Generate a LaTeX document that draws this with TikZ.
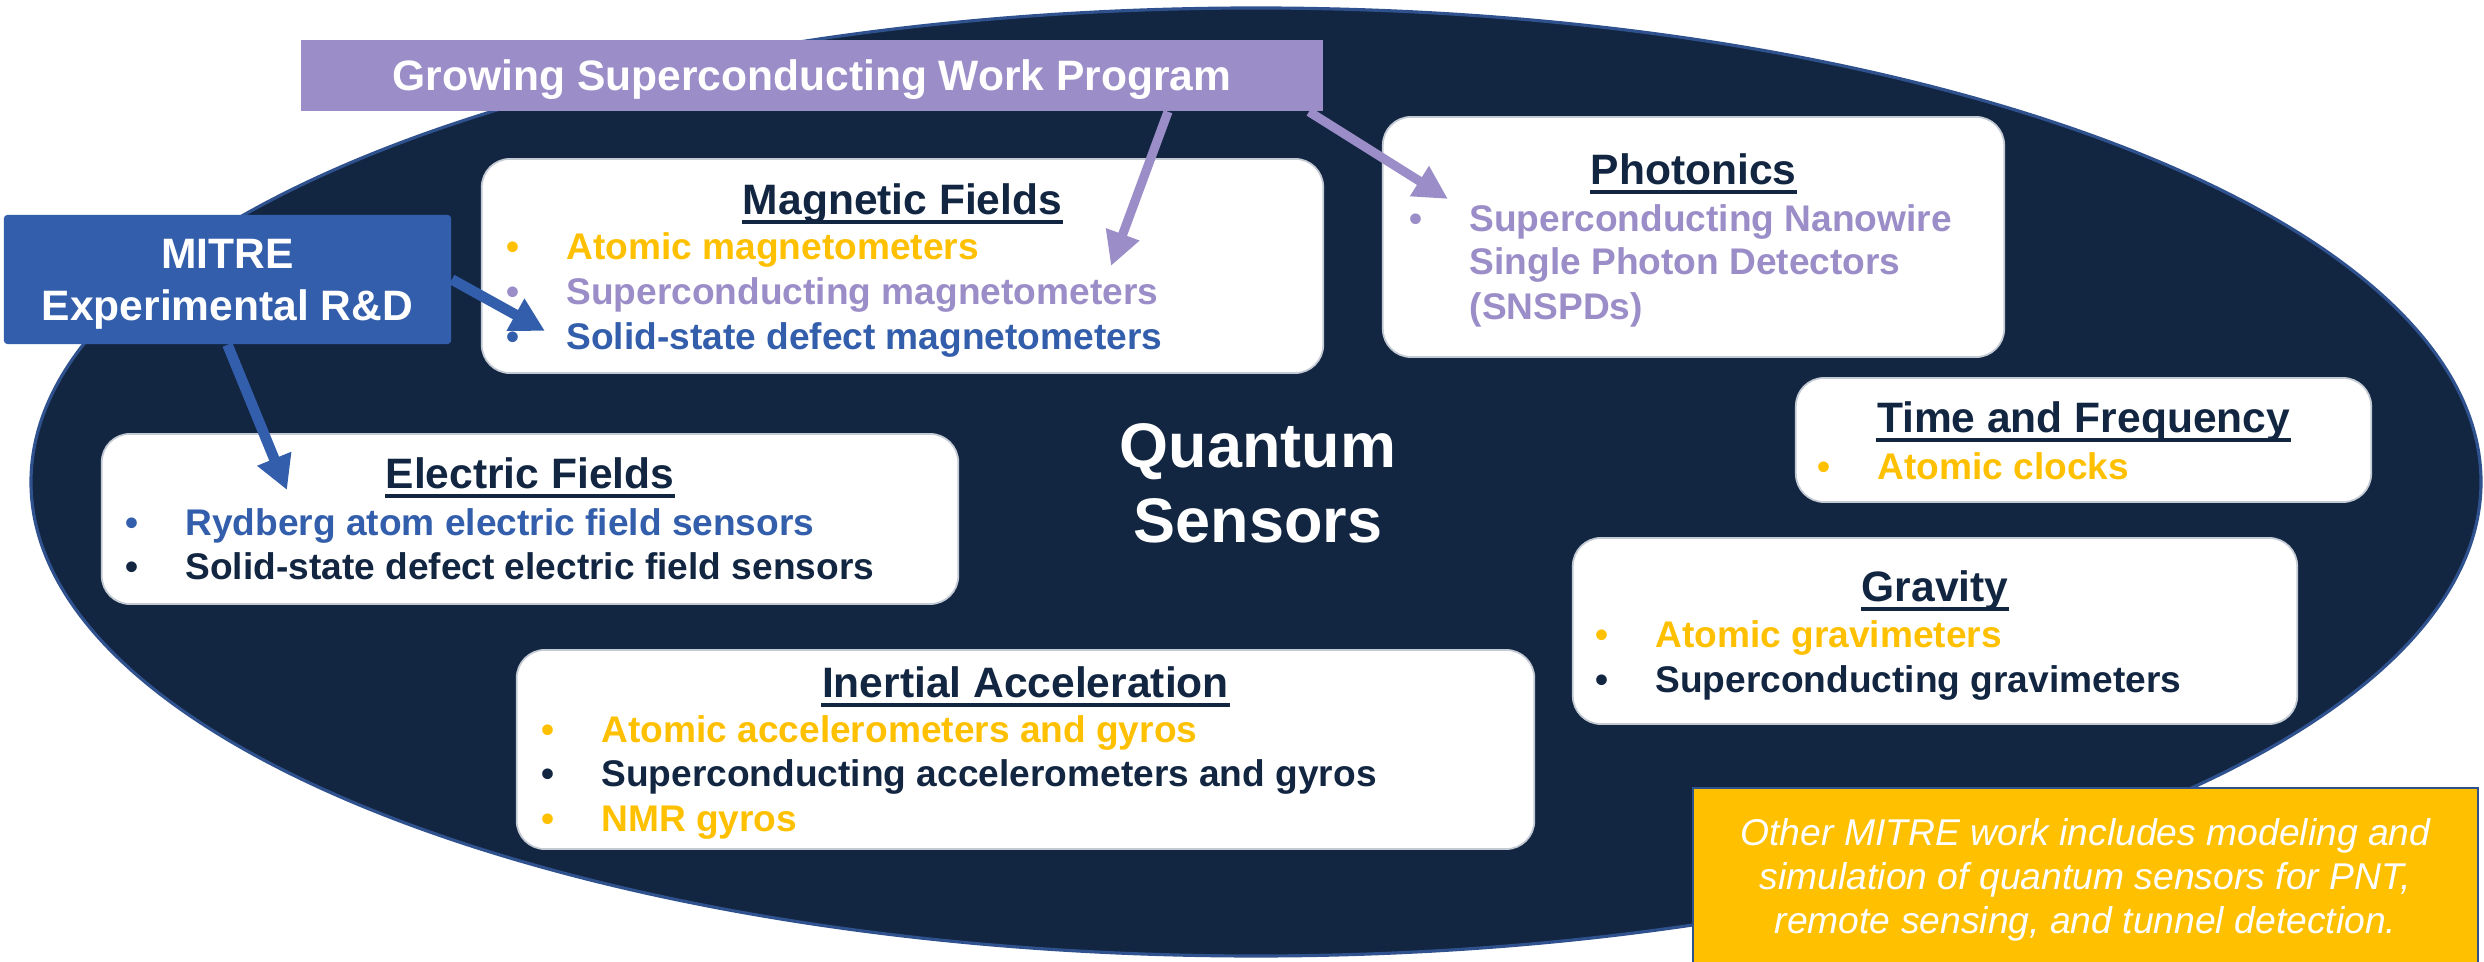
\documentclass[tikz,border=0pt]{standalone}
\usepackage{fontspec}
\setmainfont{Liberation Sans}
\usepackage{xcolor}
\usetikzlibrary{arrows.meta, calc}
\definecolor{navyColor}{RGB}{18, 38, 66}
\definecolor{rimColor}{RGB}{47, 82, 143}
\definecolor{violetColor}{RGB}{155, 142, 200}
\definecolor{blueColor}{RGB}{51, 94, 171}
\definecolor{goldColor}{RGB}{255, 192, 0}
\definecolor{edgeColor}{RGB}{196, 202, 212}
\newcommand{\bdot}{\makebox[17pt][l]{\textbullet}}

\begin{document}
\begin{tikzpicture}[x=0.01cm, y=-0.01cm,
	catbox/.style={draw=edgeColor, line width=0.5pt, fill=white, rounded corners=8pt, inner sep=0pt},
	headtext/.style={font=\bfseries\fontsize{12.1}{14}\selectfont, text=navyColor, inner sep=0pt, anchor=base},
	itemtext/.style={font=\bfseries\fontsize{10.55}{12.5}\selectfont, inner sep=0pt, anchor=base west},
	violetarrow/.style={-{Triangle[length=9.6pt, width=9.5pt]}, line width=2.6pt, violetColor},
	bluearrow/.style={-{Triangle[length=9.6pt, width=9.8pt]}, line width=3pt, blueColor}]
					\useasboundingbox (0,0) rectangle (2484,962);
					% Big ellipse
					\draw[fill=navyColor, draw=rimColor, line width=0.9pt] (1256,482) ellipse [x radius=1225, y radius=474];
					\node[white, font=\bfseries\fontsize{17.9}{21.3}\selectfont, align=center, text depth=0pt, inner sep=0pt] (qs) at (1258,483) {Quantum\\Sensors};
					
					% Category boxes
					\node[catbox, minimum width=8.41cm, minimum height=2.14cm] (magbox) at (902.5,266) {};
					\node[catbox, minimum width=6.21cm, minimum height=2.40cm] (phobox) at (1693.5,237) {};
					\node[catbox, minimum width=5.75cm, minimum height=1.24cm] (timbox) at (2083.5,440) {};
					\node[catbox, minimum width=7.24cm, minimum height=1.86cm] (grabox) at (1935,631) {};
					\node[catbox, minimum width=8.56cm, minimum height=1.70cm] (elebox) at (530,519) {};
					\node[catbox, minimum width=10.17cm, minimum height=1.99cm] (inebox) at (1025.5,749.5) {};
					
					% Headings
					\node[headtext] (hmag) at (902.5,215) {Magnetic Fields};
					\node[headtext] (hpho) at (1693.5,185) {Photonics};
					\node[headtext] (htim) at (2083.5,433) {Time and Frequency};
					\node[headtext] (hgra) at (1935,602) {Gravity};
					\node[headtext] (hele) at (530,489) {Electric Fields};
					\node[headtext] (hine) at (1025.5,698) {Inertial Acceleration};
					\draw[navyColor, line width=1.1pt] ($(hmag.base west)+(0,7)$) -- ($(hmag.base east)+(0,7)$);
					\draw[navyColor, line width=1.1pt] ($(hpho.base west)+(0,7)$) -- ($(hpho.base east)+(0,7)$);
					\draw[navyColor, line width=1.1pt] ($(htim.base west)+(0,7)$) -- ($(htim.base east)+(0,7)$);
					\draw[navyColor, line width=1.1pt] ($(hgra.base west)+(0,7)$) -- ($(hgra.base east)+(0,7)$);
					\draw[navyColor, line width=1.1pt] ($(hele.base west)+(0,7)$) -- ($(hele.base east)+(0,7)$);
					\draw[navyColor, line width=1.1pt] ($(hine.base west)+(0,7)$) -- ($(hine.base east)+(0,7)$);
					
					% Magnetic fields items
					\node[itemtext, goldColor] (mag1) at (506,260) {\bdot Atomic magnetometers};
					\node[itemtext, violetColor] (mag2) at (506,305) {\bdot Superconducting magnetometers};
					\node[itemtext, blueColor] (mag3) at (506,350) {\bdot Solid-state defect magnetometers};
					% Photonics items
					\node[itemtext, violetColor] (pho1) at (1409,232) {\bdot Superconducting Nanowire};
					\node[itemtext, violetColor] (pho2) at (1469,275) {Single Photon Detectors};
					\node[itemtext, violetColor] (pho3) at (1469,320) {(SNSPDs)};
					% Time and frequency items
					\node[itemtext, goldColor] (tim1) at (1817,480) {\bdot Atomic clocks};
					% Gravity items
					\node[itemtext, goldColor] (gra1) at (1595,648) {\bdot Atomic gravimeters};
					\node[itemtext, navyColor] (gra2) at (1595,693) {\bdot Superconducting gravimeters};
					% Electric fields items
					\node[itemtext, blueColor] (ele1) at (125,536) {\bdot Rydberg atom electric field sensors};
					\node[itemtext, navyColor] (ele2) at (125,580) {\bdot Solid-state defect electric field sensors};
					% Inertial acceleration items
					\node[itemtext, goldColor] (ine1) at (541,743) {\bdot Atomic accelerometers and gyros};
					\node[itemtext, navyColor] (ine2) at (541,787) {\bdot Superconducting accelerometers and gyros};
					\node[itemtext, goldColor] (ine3) at (541,832) {\bdot NMR gyros};
					
					% Program boxes
					\node[fill=violetColor, text=white, font=\bfseries\fontsize{12.1}{14}\selectfont, text depth=0pt, inner sep=0pt, minimum width=10.22cm, minimum height=0.71cm] (grow) at (812,75.5) {Growing Superconducting Work Program};
					\node[fill=blueColor, text=white, font=\bfseries\fontsize{12.1}{14.8}\selectfont, align=center, text depth=0pt, inner sep=0pt, rounded corners=1pt, minimum width=4.47cm, minimum height=1.29cm] (mitre) at (227.5,279.5) {MITRE\\Experimental R\&D};
					
					% Arrow tips
					\coordinate (tipmag) at (1111,266);
					\coordinate (tippho) at (1448,199);
					\coordinate (tipsol) at (545,331);
					\coordinate (tipele) at (287,490);
					\draw[violetarrow] ($(grow.south)+(356,0)$) -- (tipmag);
					\draw[violetarrow] ($(grow.south east)+(-15,0)$) -- (tippho);
					\draw[bluearrow] (mitre.east) -- (tipsol);
					\draw[bluearrow] (mitre.south) -- (tipele);
					
					% Note box
					\node[fill=goldColor, draw=rimColor, line width=0.7pt, text=white, font=\itshape\fontsize{10.6}{12.6}\selectfont, align=center, text depth=0pt, inner sep=0pt, minimum width=7.85cm, minimum height=1.76cm] (note) at (2085.5,876) {Other MITRE work includes modeling and\\simulation of quantum sensors for PNT,\\remote sensing, and tunnel detection.};
				\end{tikzpicture}
\end{document}
